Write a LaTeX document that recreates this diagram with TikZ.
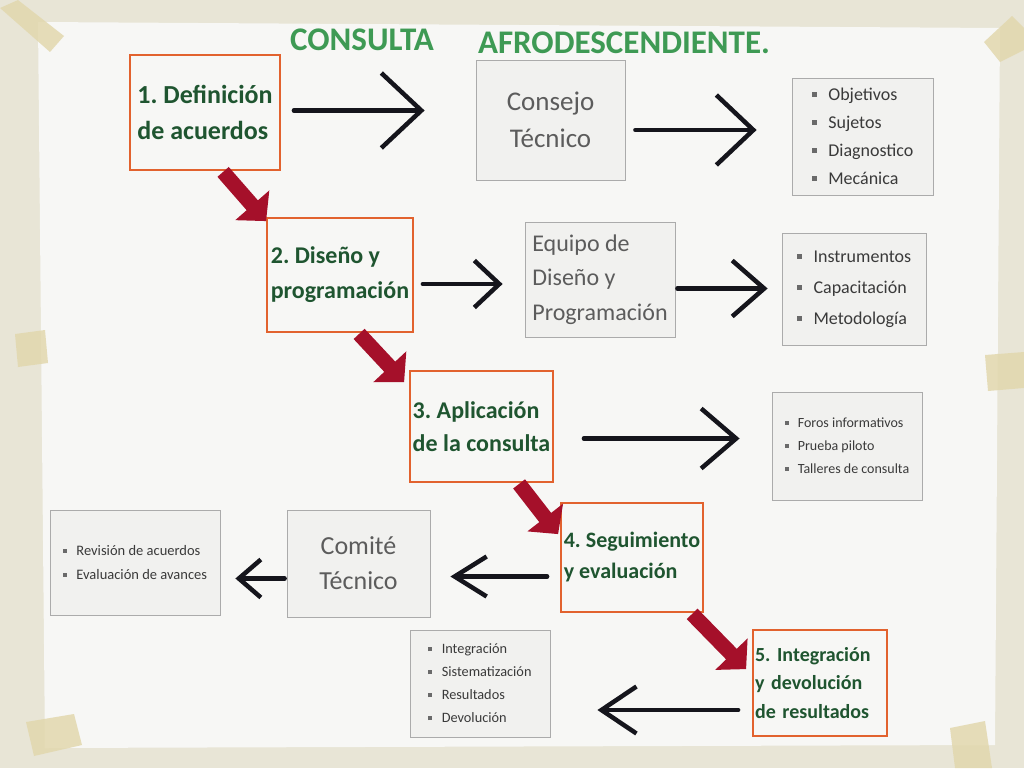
\documentclass[tikz,border=0pt]{standalone}
\usepackage{fontspec}
\setmainfont{Carlito}
\usetikzlibrary{arrows.meta,calc}
\frenchspacing
\definecolor{wall}{HTML}{E8E5D6}
\definecolor{paper}{HTML}{F7F7F5}
\definecolor{tapec}{HTML}{E2D8AE}
\definecolor{orangeb}{HTML}{E2622E}
\definecolor{stepgreen}{HTML}{1F5530}
\definecolor{titlegreen}{HTML}{3E9A54}
\definecolor{grayb}{HTML}{ABABAB}
\definecolor{graytext}{HTML}{5C5C5C}
\definecolor{listtext}{HTML}{3A3A3A}
\definecolor{bulgray}{HTML}{6A6A6A}
\definecolor{redarr}{HTML}{A5102A}
\definecolor{blackarr}{HTML}{15151C}
\definecolor{boxfill}{HTML}{F1F1EF}
\newcommand\lsq{\textcolor{bulgray}{\rule[0.2em]{0.28em}{0.28em}}\hspace{0.65em}}
\begin{document}
\begin{tikzpicture}[x=1pt,y=-1pt,
  stepbox/.style={draw=orangeb,line width=1.8pt,fill=paper,inner sep=2pt,align=left,
     text=stepgreen},
  graybox/.style={draw=grayb,line width=0.8pt,fill=boxfill,inner sep=2pt,
     text=graytext},
  listbox/.style={draw=grayb,line width=0.8pt,fill=boxfill,inner sep=2pt,align=left,
     text=listtext},
  tape/.style={fill=tapec,opacity=0.85},
  blk/.style={draw=blackarr,line width=4.5pt,line cap=round,line join=round},
  red/.style={draw=redarr,line width=15pt,-{Triangle[length=21pt,width=44pt]}}
]
\useasboundingbox (0,0) rectangle (1024,768);
\fill[wall] (0,0) rectangle (1024,768);
% paper
\fill[paper] (38,22) -- (1000,28) -- (995,745) -- (45,748) -- cycle;
% tapes
\fill[tape] (0,8) -- (18,0) -- (64,36) -- (50,52) -- cycle;
\fill[tape] (984,42) -- (1012,16) -- (1024,28) -- (1024,50) -- (1000,62) -- cycle;
\fill[tape] (15,334) -- (45,330) -- (48,363) -- (18,367) -- cycle;
\fill[tape] (985,355) -- (1024,352) -- (1024,388) -- (988,391) -- cycle;
\fill[tape] (26,722) -- (74,714) -- (82,745) -- (34,756) -- cycle;
\fill[tape] (950,728) -- (985,721) -- (992,768) -- (955,768) -- cycle;
% title
\node[text=titlegreen,font=\fontsize{33}{36}\selectfont\bfseries] (t1) at (362,40) {CONSULTA};
\node[text=titlegreen,font=\fontsize{33}{36}\selectfont\bfseries] (t2) at (624,43) {AFRODESCENDIENTE.};
% step boxes
\node[stepbox,minimum width=150pt,minimum height=115pt,font=\fontsize{26}{36}\selectfont\bfseries] (s1) at (205,112.5) {1. Definición\\de acuerdos};
\node[stepbox,minimum width=146pt,minimum height=114pt,font=\fontsize{24}{35}\selectfont\bfseries] (s2) at (340,275) {2. Diseño y\\programación};
\node[stepbox,minimum width=143pt,minimum height=111pt,font=\fontsize{24}{33}\selectfont\bfseries] (s3) at (481.5,426.5) {3. Aplicación\\de la consulta};
\node[stepbox,minimum width=142pt,minimum height=109pt,font=\fontsize{22}{31}\selectfont\bfseries] (s4) at (632,557.5) {4. Seguimiento\\y evaluación};
\node[stepbox,text width=130pt,minimum height=106pt,font=\fontsize{20}{28.5}\selectfont\bfseries] (s5) at (820,683) {5. Integración\\y devolución\\de resultados};
% gray boxes
\node[graybox,align=center,minimum width=149pt,minimum height=120pt,font=\fontsize{27}{37}\selectfont] (ct) at (550.5,120) {Consejo\\Técnico};
\node[graybox,align=left,minimum width=150pt,minimum height=115pt,font=\fontsize{24}{34.5}\selectfont] (eq) at (600,279.5) {Equipo de\\Diseño y\\Programación};
\node[graybox,align=center,minimum width=143pt,minimum height=107pt,font=\fontsize{26}{35}\selectfont] (cm) at (358.5,563.5) {Comité\\Técnico};
% list boxes
\node[listbox,minimum width=141pt,minimum height=117pt,font=\fontsize{18}{28}\selectfont] (l1) at (862.5,136.5)
  {\lsq Objetivos\\\lsq Sujetos\\\lsq Diagnostico\\\lsq Mecánica};
\node[listbox,minimum width=144pt,minimum height=112pt,font=\fontsize{18}{31}\selectfont] (l2) at (854,289)
  {\lsq Instrumentos\\\lsq Capacitación\\\lsq Metodología};
\node[listbox,minimum width=150pt,minimum height=108pt,font=\fontsize{14}{23}\selectfont] (l3) at (847,446)
  {\lsq Foros informativos\\\lsq Prueba piloto\\\lsq Talleres de consulta};
\node[listbox,minimum width=170pt,minimum height=105pt,font=\fontsize{14.5}{24}\selectfont] (l4) at (135,562.5)
  {\lsq Revisión de acuerdos\\\lsq Evaluación de avances};
\node[listbox,minimum width=140pt,minimum height=107pt,font=\fontsize{14.3}{23}\selectfont] (l5) at (480,683.5)
  {\lsq Integración\\\lsq Sistematización\\\lsq Resultados\\\lsq Devolución};
% black arrows
\draw[blk,-{Straight Barb[length=40pt,width=75pt,line width=4.5pt]}] ($(s1.east)+(13,-2)$) -- ($(s1.east -| ct.west)+(-51,-2)$);
\draw[blk,-{Straight Barb[length=37pt,width=70pt,line width=4.5pt]}] ($(ct.east)+(10,10)$) -- ($(ct.east -| l1.west)+(-35,10)$);
\draw[blk,-{Straight Barb[length=25pt,width=47pt,line width=4.5pt]}] ($(s2.east)+(9,9)$) -- ($(s2.east -| eq.west)+(-22,9)$);
\draw[blk,-{Straight Barb[length=32pt,width=56pt,line width=4.5pt]}] ($(eq.east)+(2,9)$) -- ($(eq.east -| l2.west)+(-14,9)$);
\draw[blk,-{Straight Barb[length=35pt,width=60pt,line width=4.5pt]}] ($(s3.east)+(30,12)$) -- ($(s3.east -| l3.west)+(-32,12)$);
\draw[blk,-{Straight Barb[length=32pt,width=40pt,line width=4.5pt]}] ($(s4.west)+(-13,19)$) -- ($(s4.west -| cm.east)+(20,19)$);
\draw[blk,-{Straight Barb[length=22pt,width=38pt,line width=4.5pt]}] ($(cm.west)+(-2,15)$) -- ($(cm.west -| l4.east)+(15,15)$);
\draw[blk,-{Straight Barb[length=35pt,width=47pt,line width=4.5pt]}] ($(s5.west)+(-14,27)$) -- ($(s5.west -| l5.east)+(47,27)$);
% red arrows
\draw[red] ($(s1.south west)+(94,1)$) -- ($(s2.north west)+(0,4)$);
\draw[red] ($(s2.south west)+(93,1)$) -- ($(s3.north west)+(-5,12)$);
\draw[red] ($(s3.south west)+(110,1)$) -- ($(s4.north west)+(-2,32)$);
\draw[red] ($(s4.south west)+(132,1)$) -- ($(s5.north west)+(-6,40)$);
\end{tikzpicture}
\end{document}
